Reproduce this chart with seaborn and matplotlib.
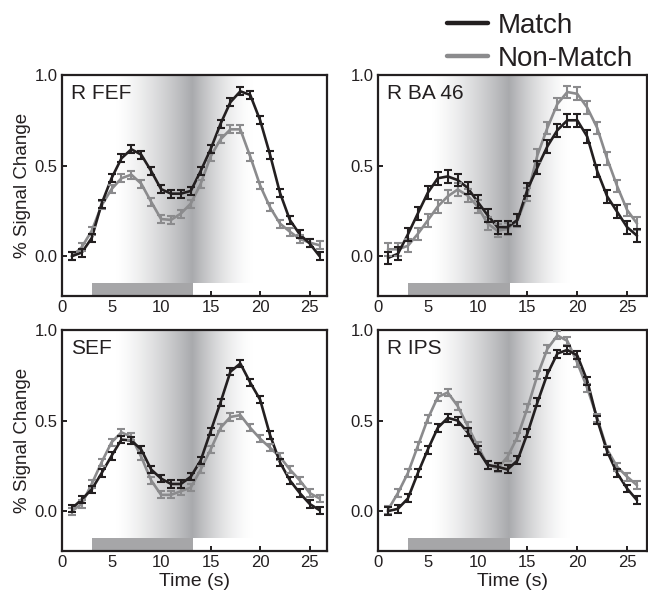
import numpy as np
import pandas as pd
import seaborn as sns
import matplotlib.pyplot as plt
from matplotlib.colors import LinearSegmentedColormap
from matplotlib.lines import Line2D

# data (percent signal change, 1 s steps)
time = np.arange(1, 27)
regions = ["R FEF", "R BA 46", "SEF", "R IPS"]

fef_match = [0.0, 0.02, 0.10, 0.29, 0.43, 0.54, 0.59, 0.56, 0.47, 0.37, 0.345, 0.345, 0.36,
             0.47, 0.59, 0.73, 0.85, 0.91, 0.89, 0.75, 0.56, 0.35, 0.20, 0.12, 0.07, 0.0]
fef_nonmatch = [0.0, 0.05, 0.14, 0.28, 0.37, 0.43, 0.45, 0.40, 0.30, 0.205, 0.20, 0.235, 0.29,
                0.40, 0.55, 0.645, 0.70, 0.70, 0.55, 0.39, 0.27, 0.18, 0.135, 0.095, 0.075, 0.06]
ba46_match = [-0.01, 0.013, 0.12, 0.236, 0.35, 0.43, 0.44, 0.42, 0.377, 0.30, 0.226, 0.16, 0.16,
              0.20, 0.368, 0.49, 0.606, 0.695, 0.75, 0.75, 0.66, 0.47, 0.33, 0.245, 0.16, 0.113]
ba46_nonmatch = [0.038, 0.038, 0.057, 0.123, 0.198, 0.274, 0.33, 0.368, 0.334, 0.274, 0.18, 0.14, 0.15,
                 0.198, 0.34, 0.557, 0.708, 0.84, 0.906, 0.896, 0.82, 0.708, 0.538, 0.387, 0.255, 0.18]
sef_match = [0.015, 0.065, 0.12, 0.21, 0.305, 0.395, 0.39, 0.34, 0.23, 0.18, 0.15, 0.15, 0.19,
             0.28, 0.44, 0.60, 0.77, 0.815, 0.71, 0.615, 0.42, 0.27, 0.17, 0.10, 0.04, 0.005]
sef_nonmatch = [0.0, 0.04, 0.15, 0.27, 0.38, 0.435, 0.41, 0.30, 0.17, 0.09, 0.09, 0.11, 0.13,
                0.23, 0.34, 0.46, 0.52, 0.53, 0.46, 0.40, 0.35, 0.30, 0.23, 0.17, 0.10, 0.07]
ips_match = [0.0, 0.013, 0.07, 0.21, 0.34, 0.46, 0.515, 0.50, 0.435, 0.34, 0.255, 0.245, 0.23,
             0.28, 0.43, 0.60, 0.757, 0.87, 0.89, 0.86, 0.72, 0.505, 0.33, 0.21, 0.125, 0.06]
ips_nonmatch = [0.007, 0.10, 0.21, 0.36, 0.51, 0.63, 0.655, 0.58, 0.47, 0.36, 0.255, 0.236, 0.30,
                0.41, 0.57, 0.75, 0.896, 0.97, 0.94, 0.82, 0.68, 0.515, 0.34, 0.245, 0.19, 0.143]
sem = {"R FEF": 0.022, "R BA 46": 0.035, "SEF": 0.02, "R IPS": 0.022}

# task timing
cue_on, cue_off = 3.05, 13.2
shade_on, shade_peak, shade_off = 5.3, 13.1, 19.3

values = {
    "R FEF": (fef_match, fef_nonmatch),
    "R BA 46": (ba46_match, ba46_nonmatch),
    "SEF": (sef_match, sef_nonmatch),
    "R IPS": (ips_match, ips_nonmatch),
}
rows = []
for reg in regions:
    m, n = values[reg]
    for t, a, b in zip(time, m, n):
        rows.append((reg, "Match", t, a))
        rows.append((reg, "Non-Match", t, b))
df = pd.DataFrame(rows, columns=["region", "condition", "time", "signal"])

sns.set_theme(style="ticks")
plt.rcParams['font.family'] = ['Liberation Sans', 'DejaVu Sans']
ink = "#231f20"
colors = {"Match": "#231f20", "Non-Match": "#8b8b8d"}

fig = plt.figure(figsize=(6.48, 5.97), dpi=100)
positions = [
    [62 / 648, 1 - 296 / 597, 265 / 648, 221 / 597],
    [378 / 648, 1 - 296 / 597, 269 / 648, 221 / 597],
    [62 / 648, 1 - 551 / 597, 265 / 648, 221 / 597],
    [378 / 648, 1 - 551 / 597, 269 / 648, 221 / 597],
]

shade_cmap = LinearSegmentedColormap.from_list("shade", ["#ffffff", "#a9aaad"])
xs = np.linspace(shade_on, shade_off, 400)
prof = np.where(xs <= shade_peak,
                ((xs - shade_on) / (shade_peak - shade_on)) ** 1.4,
                (1 - (xs - shade_peak) / (shade_off - shade_peak)) ** 1.6)

for i, reg in enumerate(regions):
    ax = fig.add_axes(positions[i])
    ylo, yhi = -0.22, 1.0
    bar_top = -0.148
    ax.imshow(prof[np.newaxis, :], extent=(shade_on, shade_off, bar_top, yhi), aspect="auto",
              cmap=shade_cmap, vmin=0, vmax=1, zorder=0, interpolation="bilinear")
    ax.fill_between([cue_on, cue_off], ylo, bar_top, color="#a6a6a8", lw=0, zorder=1)

    sub = df[df.region == reg]
    sns.lineplot(data=sub, x="time", y="signal", hue="condition", palette=colors,
                 hue_order=["Non-Match", "Match"], linewidth=1.9, legend=False, ax=ax, zorder=3)
    for cond in ["Non-Match", "Match"]:
        s = sub[sub.condition == cond]
        ax.errorbar(s.time, s.signal, yerr=sem[reg], fmt="none", ecolor=colors[cond],
                    elinewidth=1.5, capsize=2.8, capthick=1.5, zorder=4)

    ax.set_xlim(0.35, 26.75 if i % 2 == 0 else 27.0)
    ax.set_ylim(ylo, yhi)
    ax.set_xticks([0, 5, 10, 15, 20, 25])
    ax.set_yticks([0.0, 0.5, 1.0])
    ax.set_yticklabels(["0.0", "0.5", "1.0"])
    ax.tick_params(direction="in", length=3.5, width=1.4, color=ink, labelsize=12,
                   labelcolor=ink, pad=3)
    for sp in ax.spines.values():
        sp.set_linewidth(1.6)
        sp.set_color(ink)
        sp.set_visible(True)
    ax.set_xlabel("Time (s)" if i >= 2 else "", fontsize=14, color=ink, labelpad=2)
    ax.set_ylabel("% Signal Change" if i % 2 == 0 else "", fontsize=13.5, color=ink, labelpad=3)
    ax.text(0.035, 0.915, reg, transform=ax.transAxes, fontsize=15, color=ink,
            va="center", ha="left", zorder=5)

handles = [Line2D([], [], color=colors["Match"], lw=3.2),
           Line2D([], [], color=colors["Non-Match"], lw=3.2)]
fig.legend(handles, ["Match", "Non-Match"], loc="upper left", bbox_to_anchor=(0.685, 0.983),
           frameon=False, fontsize=20, handlelength=1.5, handletextpad=0.35,
           labelspacing=0.25, borderpad=0.1, borderaxespad=0, labelcolor=ink)

fig.savefig("out.png", dpi=100)
